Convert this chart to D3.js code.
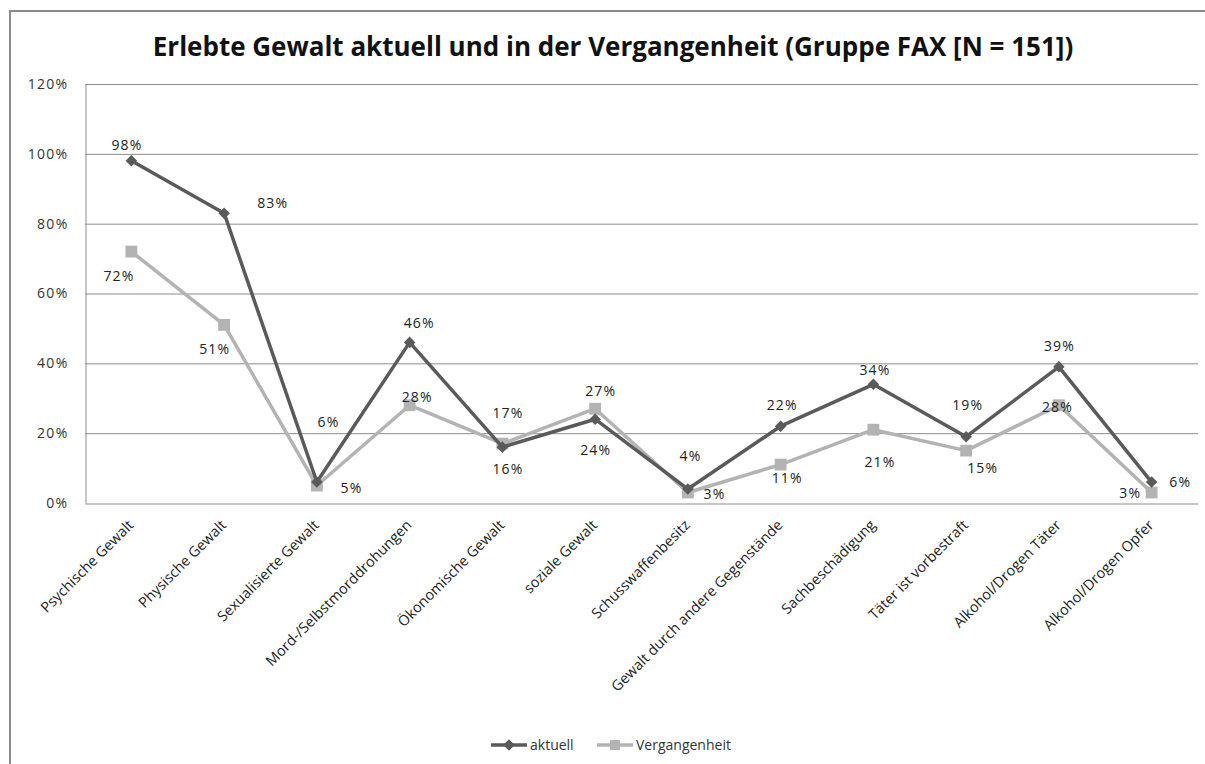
<!DOCTYPE html>
<html>
<head>
<meta charset="utf-8">
<script src="https://cdn.jsdelivr.net/npm/d3@7"></script>
<style>
  body { margin: 0; background: #fff; }
</style>
</head>
<body>
<svg id="chart" width="1205" height="764"></svg>
<script>
// categories and series
var categories = ["Psychische Gewalt", "Physische Gewalt", "Sexualisierte Gewalt",
  "Mord-/Selbstmorddrohungen", "Ökonomische Gewalt", "soziale Gewalt",
  "Schusswaffenbesitz", "Gewalt durch andere Gegenstände", "Sachbeschädigung",
  "Täter ist vorbestraft", "Alkohol/Drogen Täter", "Alkohol/Drogen Opfer"];
var aktuell = [98, 83, 6, 46, 16, 24, 4, 22, 34, 19, 39, 6];
var vergangenheit = [72, 51, 5, 28, 17, 27, 3, 11, 21, 15, 28, 3];
var yTicks = [0, 20, 40, 60, 80, 100, 120];
var seriesNames = ["aktuell", "Vergangenheit"];

// label nudges (dx, dy) as placed in the original
var nudgeAktuell = [[-5,-16],[48,-10],[11,-60],[9,-19],[5,22],[0,31],[2,-33],[1,-21],[1,-14],[1,-32],[0,-21],[28,0]];
var nudgeVergangenheit = [[-13,24],[-10,24],[34,2],[7,-8],[5,-31],[5,-18],[26,1],[6,13],[6,32],[16,17],[-2,2],[-22,0]];

var SANS = "'Open Sans', 'Liberation Sans', sans-serif";

var cfg = {
  plot: { left: 85, right: 1198, top: 84, bottom: 503 },
  colors: { aktuell: "#5a5a5a", vergangenheit: "#b3b3b3", grid: "#8c8c8c", text: "#222" }
};

var svg = d3.select("#chart");

svg.append("rect")
  .attr("x", 10).attr("y", 11)
  .attr("width", 1210).attr("height", 770)
  .attr("fill", "#fff")
  .attr("stroke", "#8a8a8a").attr("stroke-width", 2);

svg.append("text")
  .attr("x", 613).attr("y", 56)
  .attr("text-anchor", "middle")
  .style("font-family", SANS)
  .attr("font-size", "26px").attr("font-weight", 700)
  .attr("fill", "#111")
  .text("Erlebte Gewalt aktuell und in der Vergangenheit (Gruppe FAX [N = 151])");

var x = d3.scaleBand()
  .domain(categories)
  .range([cfg.plot.left, cfg.plot.right]);

var y = d3.scaleLinear()
  .domain([0, 120])
  .range([cfg.plot.bottom, cfg.plot.top]);

function cx(d, i) { return x(categories[i]) + x.bandwidth() / 2; }

// gridlines
svg.append("g")
  .selectAll("line")
  .data(yTicks.filter(function(t){ return t > 0; }))
  .enter().append("line")
    .attr("x1", cfg.plot.left).attr("x2", cfg.plot.right)
    .attr("y1", function(t){ return y(t) + 0.5; })
    .attr("y2", function(t){ return y(t) + 0.5; })
    .attr("stroke", cfg.colors.grid).attr("stroke-width", 1);

// y axis
var yAxis = svg.append("g")
  .attr("transform", "translate(" + (cfg.plot.left + 0.5) + ",0)")
  .call(d3.axisLeft(y).tickValues(yTicks).tickSize(0).tickPadding(17)
    .tickFormat(function(t){ return t + "%"; }));
yAxis.select(".domain").attr("stroke", cfg.colors.grid);
yAxis.selectAll("text")
  .style("font-family", SANS)
  .style("font-size", "14px")
  .style("letter-spacing", "1.3px")
  .attr("fill", "#333");

// x axis
var xAxis = svg.append("g")
  .attr("transform", "translate(0," + (cfg.plot.bottom + 0.5) + ")")
  .call(d3.axisBottom(x).tickSize(0).tickFormat(""));
xAxis.select(".domain").attr("stroke", cfg.colors.grid);

svg.append("g")
  .selectAll("text")
  .data(categories)
  .enter().append("text")
    .attr("transform", function(d) {
      return "translate(" + (x(d) + x.bandwidth() / 2 + 3) + "," + (cfg.plot.bottom + 23) + ") rotate(-45)";
    })
    .attr("text-anchor", "end")
    .style("font-family", SANS)
    .style("font-size", "14.5px")
    .attr("fill", cfg.colors.text)
    .text(function(d){ return d; });

var line = d3.line()
  .x(cx)
  .y(function(d){ return y(d); });

function drawSeries(values, color, marker, nudges) {
  svg.append("path")
    .datum(values)
    .attr("d", line)
    .attr("fill", "none")
    .attr("stroke", color)
    .attr("stroke-width", 3.5)
    .attr("stroke-linejoin", "round");

  svg.append("g")
    .selectAll("path")
    .data(values)
    .enter().append("path")
      .attr("d", marker)
      .attr("transform", function(d, i){ return "translate(" + cx(d, i) + "," + y(d) + ")"; })
      .attr("fill", color);

  svg.append("g")
    .selectAll("text")
    .data(values)
    .enter().append("text")
      .attr("x", function(d, i){ return cx(d, i) + nudges[i][0] + 0.6; })
      .attr("y", function(d, i){ return y(d) + nudges[i][1] + 5; })
      .attr("text-anchor", "middle")
      .style("font-family", SANS)
      .style("font-size", "14px")
      .style("letter-spacing", "1.2px")
      .attr("fill", cfg.colors.text)
      .text(function(d){ return d + "%"; });
}

var diamond = d3.symbol().type(d3.symbolDiamond2).size(85)();
var square = d3.symbol().type(d3.symbolSquare).size(140)();

drawSeries(vergangenheit, cfg.colors.vergangenheit, square, nudgeVergangenheit);
drawSeries(aktuell, cfg.colors.aktuell, diamond, nudgeAktuell);

// legend
var legend = svg.append("g").attr("transform", "translate(491,745)");
var legendItems = [
  { name: seriesNames[0], color: cfg.colors.aktuell, marker: diamond, x: 0 },
  { name: seriesNames[1], color: cfg.colors.vergangenheit, marker: square, x: 106 }
];
legendItems.forEach(function(it) {
  var g = legend.append("g").attr("transform", "translate(" + it.x + ",0)");
  g.append("line").attr("x1", 0).attr("x2", 36)
    .attr("stroke", it.color).attr("stroke-width", 3.5);
  g.append("path").attr("d", it.marker)
    .attr("transform", "translate(18,0)" + (it.marker === square ? " scale(0.85)" : ""))
    .attr("fill", it.color);
  g.append("text").attr("x", 39).attr("y", 5)
    .style("font-family", SANS)
    .style("font-size", "14px").attr("fill", "#333")
    .text(it.name);
});
</script>
</body>
</html>
